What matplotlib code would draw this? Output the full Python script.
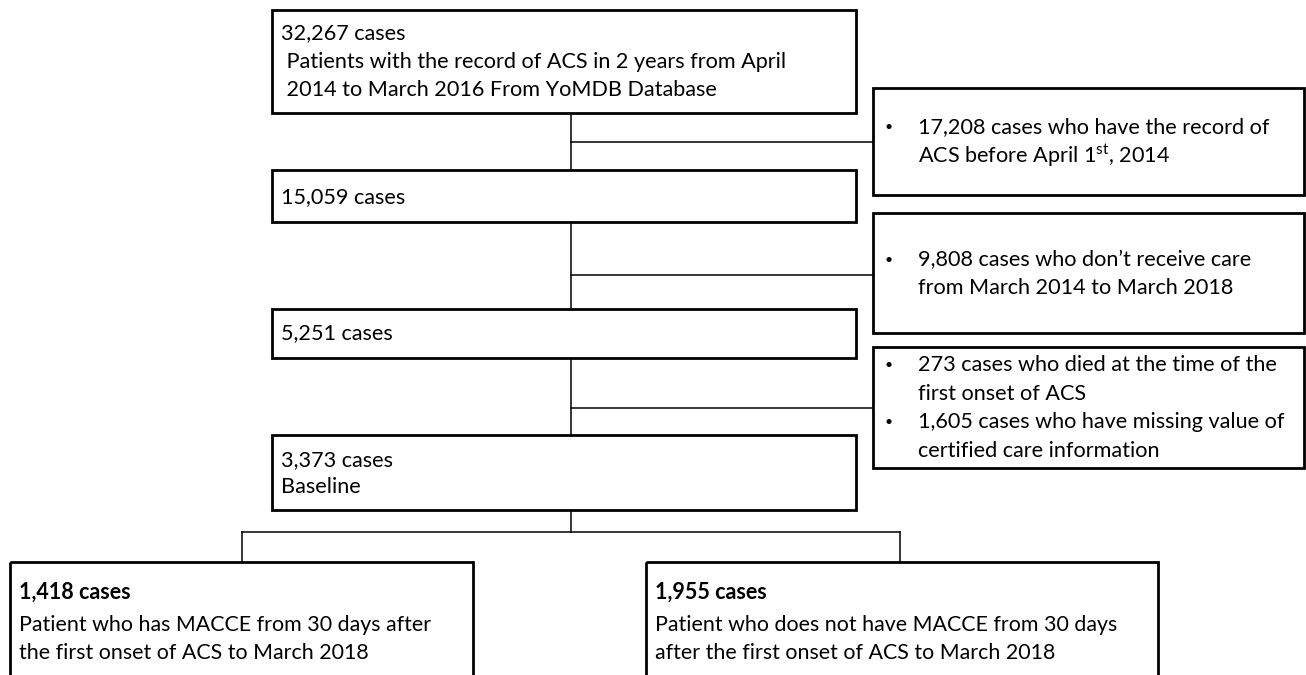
import matplotlib
matplotlib.use("Agg")
import matplotlib.pyplot as plt
from matplotlib.patches import Rectangle

plt.rcParams['font.family'] = ['Lato', 'DejaVu Sans']
plt.rcParams['mathtext.fontset'] = 'custom'
plt.rcParams['mathtext.rm'] = 'Lato'

# flow text
main_lines = [
    ["32,267 cases",
     " Patients with the record of ACS in 2 years from April",
     " 2014 to March 2016 From YoMDB Database"],
    ["15,059 cases"],
    ["5,251 cases"],
    ["3,373 cases", "Baseline"],
]
excl_lines = [
    [("\u2022", "17,208 cases who have the record of"),
     ("", r"ACS before April 1$^{\mathrm{st}}$, 2014")],
    [("\u2022", "9,808 cases who don\u2019t receive care"),
     ("", "from March 2014 to March 2018")],
    [("\u2022", "273 cases who died at the time of the"),
     ("", "first onset of ACS"),
     ("\u2022", "1,605 cases who have missing value of"),
     ("", "certified care information")],
]
group_title = ["1,418 cases", "1,955 cases"]
group_desc = [
    ["Patient who has MACCE from 30 days after",
     "the first onset of ACS to March 2018"],
    ["Patient who does not have MACCE from 30 days",
     "after the first onset of ACS to March 2018"],
]

# layout (pixels, y down)
main_boxes = [(272, 10, 856, 113), (272, 170, 856, 222),
              (272, 309, 856, 358), (272, 435, 856, 510)]
main_text_y = [[33, 62, 90], [197], [333], [460, 487]]
side_boxes = [(873, 88, 1304, 195), (873, 213, 1304, 333), (873, 347, 1304, 468)]
side_text_y = [[127, 156], [260, 288], [365, 394, 422, 451]]
side_conn_y = [142, 275, 408]
bottom_boxes = [(10, 562, 473, 690), (646, 562, 1158, 690)]
bottom_text_y = [592, 625, 653]
cx = 571
fs = 15.6

fig = plt.figure(figsize=(13.06, 6.75), dpi=100)
ax = fig.add_axes([0, 0, 1, 1])
ax.set_xlim(0, 1306)
ax.set_ylim(675, 0)
ax.axis('off')

def box(x0, y0, x1, y1):
    ax.add_patch(Rectangle((x0, y0), x1 - x0, y1 - y0, fill=False,
                           edgecolor='black', linewidth=2.0, zorder=3))

def line(xs, ys):
    ax.plot(xs, ys, color='black', linewidth=1.1, zorder=2)

for (x0, y0, x1, y1), lines, ys in zip(main_boxes, main_lines, main_text_y):
    box(x0, y0, x1, y1)
    for t, y in zip(lines, ys):
        ax.text(x0 + 9, y, t, fontsize=fs, va='center', ha='left')

for (x0, y0, x1, y1), lines, ys in zip(side_boxes, excl_lines, side_text_y):
    box(x0, y0, x1, y1)
    for (b, t), y in zip(lines, ys):
        if b:
            ax.text(x0 + 12, y, b, fontsize=10, va='center', ha='left')
        ax.text(x0 + 45, y, t, fontsize=fs, va='center', ha='left')

# main vertical connectors
for (a, b) in zip(main_boxes[:-1], main_boxes[1:]):
    line([cx, cx], [a[3], b[1]])
for y in side_conn_y:
    line([cx, side_boxes[0][0]], [y, y])

# split to the two groups
split_y = 532
line([cx, cx], [main_boxes[3][3], split_y])
lx = 242
rx = 900
line([lx, rx], [split_y, split_y])
line([lx, lx], [split_y, bottom_boxes[0][1]])
line([rx, rx], [split_y, bottom_boxes[1][1]])

for (x0, y0, x1, y1), title, desc in zip(bottom_boxes, group_title, group_desc):
    box(x0, y0, x1, y1)
    ax.text(x0 + 9, bottom_text_y[0], title, fontsize=15.5, fontweight='bold',
            va='center', ha='left')
    for t, y in zip(desc, bottom_text_y[1:]):
        ax.text(x0 + 9, y, t, fontsize=15.4, va='center', ha='left')

fig.savefig("out.png", dpi=100)
